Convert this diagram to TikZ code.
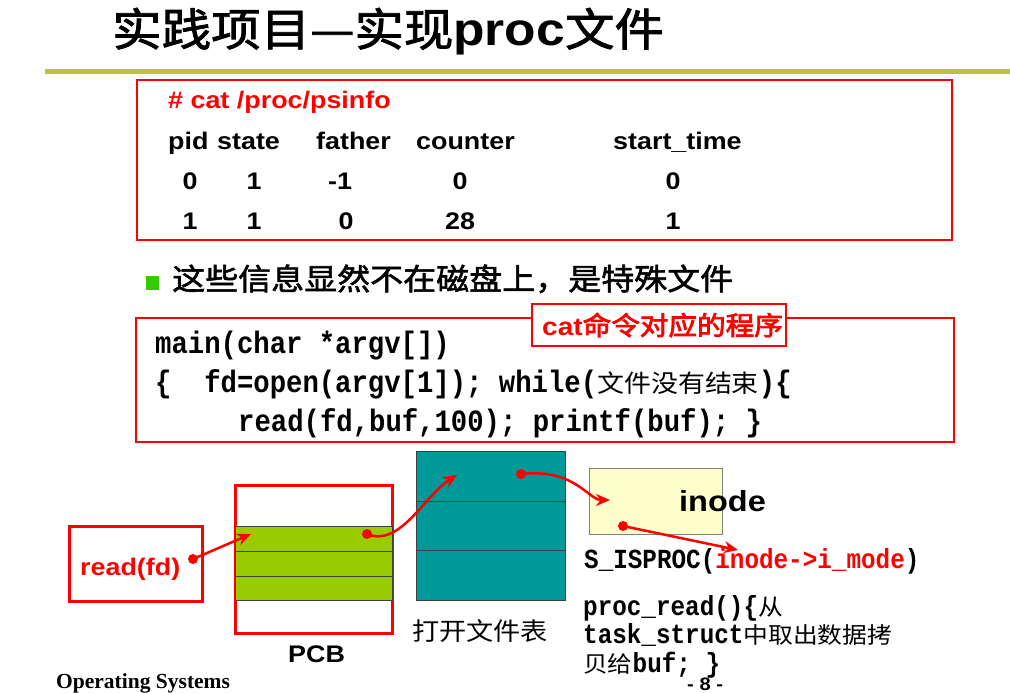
\documentclass[tikz,border=0pt]{standalone}
\usepackage{fontspec}
\setmainfont{Liberation Sans}
\newfontfamily\cjk{Noto Sans CJK SC}[FakeStretch=1.1]
\newfontfamily\cjkm{Noto Sans CJK SC}[FakeStretch=1.1,FakeBold=1.8]
\newfontfamily\cjkb{Noto Sans CJK SC}[FakeStretch=1.1,FakeBold=3]
\newfontfamily\wide{Liberation Sans}[FakeStretch=1.12]
\newfontfamily\code{Liberation Mono}[FakeStretch=0.88]
\newfontfamily\tms{Liberation Serif}
\usetikzlibrary{arrows.meta}
\definecolor{barline}{RGB}{192,192,64}
\definecolor{bulletgreen}{RGB}{51,204,0}
\definecolor{pcbgreen}{RGB}{153,204,0}
\definecolor{tabteal}{RGB}{0,153,153}
\definecolor{inodefill}{RGB}{255,255,204}
\newcommand{\fs}[1]{\fontsize{#1}{#1}\selectfont}

\begin{document}
\begin{tikzpicture}[x=1pt,y=-1pt,
  every node/.style={inner sep=0pt},
  txt/.style={anchor=base west},
  hdr/.style={anchor=base west, font=\fs{24}\wide\bfseries},
  val/.style={anchor=base, font=\fs{24}\wide\bfseries},
  redbox/.style={draw=red, line width=1.2pt},
  cell/.style={draw=black!75, line width=1pt},
  ptr/.style={red, line width=2.5pt, -{Stealth[length=14pt,width=12pt]}}]
\useasboundingbox (0,0) rectangle (1010,693);

% title
\node[txt] (title) at (112,46) {\fs{45}\cjkm 实践项目—实现{\fs{46}\wide\bfseries proc}文件};
\draw[barline, line width=5pt] (45,72) -- (1010,72);

% cat output
\draw[redbox] (137,80) rectangle (952,240);
\node[txt, red] (cmd) at (168,109) {\fs{24}\wide\bfseries \# cat /proc/psinfo};
\node[hdr] (pid) at (168,149) {pid};
\node[hdr] (state) at (217,149) {state};
\node[hdr] (father) at (316,149) {father};
\node[hdr] (counter) at (416,149) {counter};
\node[hdr] (start) at (613,149) {start\_time};
\node[val] (pidA) at (190,189) {0};
\node[val] (stateA) at (254,189) {1};
\node[val] (fatherA) at (340,189) {-1};
\node[val] (counterA) at (460,189) {0};
\node[val] (startA) at (673,189) {0};
\node[val] (pidB) at (190,229) {1};
\node[val] (stateB) at (254,229) {1};
\node[val] (fatherB) at (346,229) {0};
\node[val] (counterB) at (460,229) {28};
\node[val] (startB) at (673,229) {1};

% note
\fill[bulletgreen] (146,276) rectangle (159,290);
\node[txt] (note) at (172,290) {\fs{30}\cjkm 这些信息显然不在磁盘上，是特殊文件};

% cat program
\draw[redbox] (136,318) rectangle (954,442);
\node[txt] (codeA) at (155,353) {\fs{31}\code\bfseries main(char *argv[])};
\node[txt] (codeB) at (155,392) {\fs{31}\code\bfseries \{\ \ fd=open(argv[1]); while({\cjk\mdseries\fs{24.5}文件没有结束})\{};
\node[txt] (codeC) at (238,431) {\fs{31}\code\bfseries read(fd,buf,100); printf(buf); \}};
\node[redbox, fill=white, minimum width=254, minimum height=42] (catlabel) at (659,325) {};
\node[txt, text=red] (cattext) at (542,335) {{\fs{25}\wide\bfseries cat}{\fs{26}\cjkb 命令对应的程序}};

% read(fd)
\node[draw=red, line width=3pt, minimum width=133, minimum height=75] (readfd) at (135.5,563.5) {};
\node[txt, text=red] (readlabel) at (80,575) {\fs{24}\wide\bfseries read(fd)};

% PCB
\draw[red, line width=3pt] (235,485) rectangle (392,633);
\node[cell, fill=pcbgreen, minimum width=157, minimum height=74] (pcb) at (313.5,563) {};
\foreach \y in {551,576} \draw[cell] (235,\y) -- (392,\y);
\node[txt] (pcblabel) at (288,662) {\fs{24}\wide\bfseries PCB};

% open file table
\node[cell, fill=tabteal, minimum width=149, minimum height=149] (ftab) at (490.5,525.5) {};
\foreach \y in {501,550} \draw[cell] (416,\y) -- (565,\y);
\node[txt] (ftablabel) at (412,640) {\fs{24.7}\cjk 打开文件表};

% inode
\node[draw=gray, line width=1pt, fill=inodefill, minimum width=133, minimum height=66] (inode) at (655.5,501) {};
\node[txt] (inodelabel) at (679,511) {\fs{29}\wide\bfseries inode};

\node[txt] (isproc) at (584,568) {\fs{27.6}\code\bfseries S\_ISPROC(\textcolor{red}{inode->i\_mode})};
\node[txt] (procA) at (583,615) {\fs{27.6}\code\bfseries proc\_read()\{{\cjk\mdseries\fs{22.5}从}};
\node[txt] (procB) at (583,643) {\fs{27.6}\code\bfseries task\_struct{\cjk\mdseries\fs{22.5}中取出数据拷}};
\node[txt] (procC) at (583,672) {\fs{27.6}\code\bfseries {\cjk\mdseries\fs{22.5}贝给}buf; \}};

% pointers
\coordinate (p1) at (193,559);
\coordinate (p1end) at (251,534);
\coordinate (p2) at (367,534);
\coordinate (p2end) at (457,475);
\coordinate (p3) at (521,474);
\coordinate (p3end) at (610,500);
\coordinate (p4) at (623,526);
\coordinate (p4end) at (738,550);
\foreach \p in {p1,p2,p3,p4} \fill[red] (\p) circle (5);
\draw[ptr] (p1) -- (p1end);
\draw[ptr] (p2) .. controls (400,548) and (425,495) .. (p2end);
\draw[ptr] (p3) .. controls (575,468) and (588,500) .. (p3end);
\draw[ptr] (p4) -- (p4end);

% footer
\node[txt] (footer) at (56,688) {\fs{21.5}\tms\bfseries Operating Systems};
\node[txt] (page) at (687,690) {\fs{18}\wide\bfseries - 8 -};
\end{tikzpicture}
\end{document}
